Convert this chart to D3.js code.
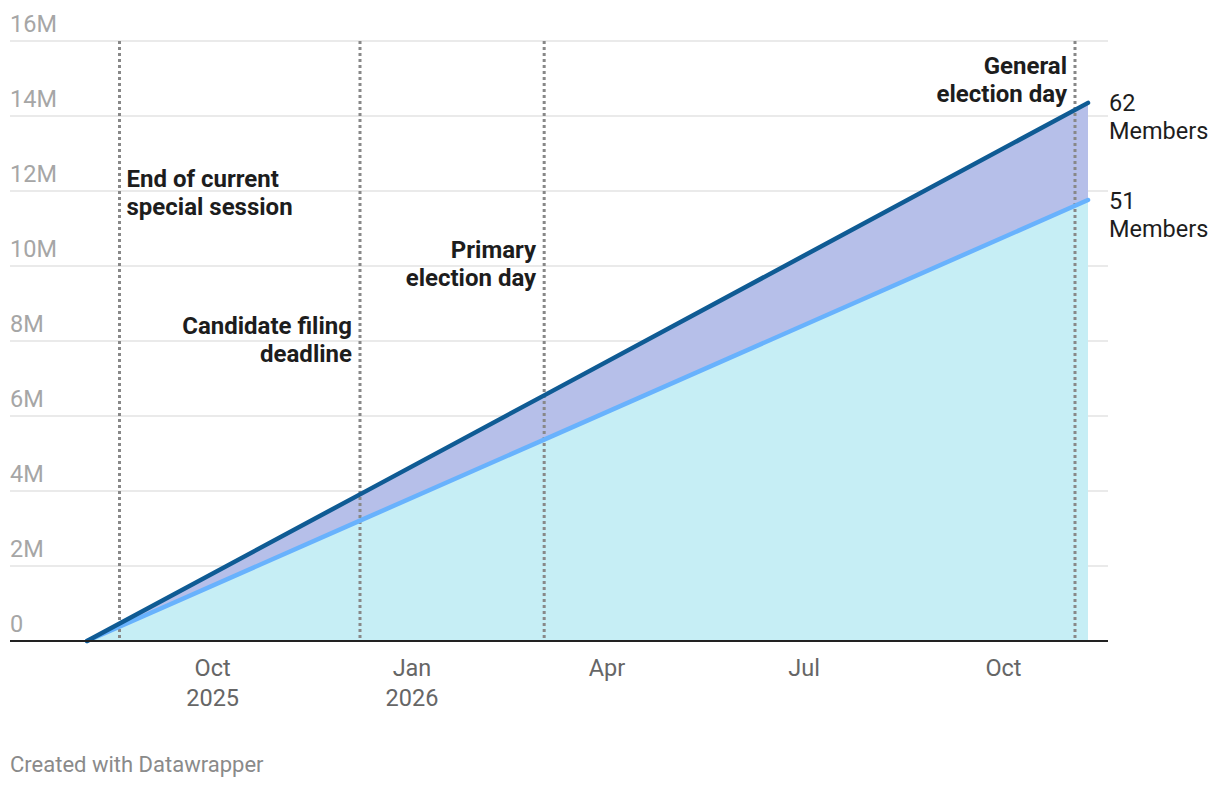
<!DOCTYPE html>
<html>
<head>
<meta charset="utf-8">
<script src="https://cdn.jsdelivr.net/npm/d3@7"></script>
<style>
	body { margin: 0; background: #fff; font-family: Roboto, "Noto Sans", sans-serif; }
	svg text { font-family: Roboto, "Noto Sans", sans-serif; }
</style>
</head>
<body>
<script>
// data
var dates = ["2025-08-04", "2025-12-08", "2026-03-03", "2026-11-09"];
var members62 = [0, 3.91, 6.55, 14.35];   // millions
var members51 = [0, 3.21, 5.37, 11.76];   // millions
var yTicks = [0, 2, 4, 6, 8, 10, 12, 14, 16];
var yTickLabels = ["0", "2M", "4M", "6M", "8M", "10M", "12M", "14M", "16M"];
var xTicks = ["2025-10-01", "2026-01-01", "2026-04-01", "2026-07-01", "2026-10-01"];
var xTickLabels = [["Oct", "2025"], ["Jan", "2026"], ["Apr"], ["Jul"], ["Oct"]];
var eventDates = ["2025-08-19", "2025-12-08", "2026-03-03", "2026-11-03"];
var eventLabels = [
	["End of current", "special session"],
	["Candidate filing", "deadline"],
	["Primary", "election day"],
	["General", "election day"]
];
var seriesLabels = [["62", "Members"], ["51", "Members"]];

var parse = d3.timeParse("%Y-%m-%d");
var W = 1220, H = 788;

var svg = d3.select("body").append("svg")
	.attr("width", W)
	.attr("height", H);

var x = d3.scaleTime()
	.domain([parse(dates[0]), parse(dates[dates.length - 1])])
	.range([87, 1088]);
var y = d3.scaleLinear()
	.domain([0, 16])
	.range([641, 41]);

var rows = dates.map(function(d, i) {
	return { date: parse(d), a: members62[i], b: members51[i] };
});

// gridlines
svg.append("g")
	.selectAll("line")
	.data(yTicks.slice(1))
	.enter().append("line")
		.attr("x1", 10)
		.attr("x2", 1108)
		.attr("y1", function(d) { return y(d); })
		.attr("y2", function(d) { return y(d); })
		.attr("stroke", "#e3e3e3")
		.attr("stroke-width", 1.5);

svg.append("g")
	.selectAll("text")
	.data(yTicks)
	.enter().append("text")
		.attr("x", 10)
		.attr("y", function(d) { return y(d) - 9.5; })
		.attr("fill", "#a6a6a6")
		.attr("font-size", 23.5)
		.text(function(d, i) { return yTickLabels[i]; });

// areas
svg.append("path")
	.datum(rows)
	.attr("fill", "#c6eef5")
	.attr("d", d3.area()
		.x(function(d) { return x(d.date); })
		.y0(y(0))
		.y1(function(d) { return y(d.b); }));

svg.append("path")
	.datum(rows)
	.attr("fill", "#b6bfe9")
	.attr("d", d3.area()
		.x(function(d) { return x(d.date); })
		.y0(function(d) { return y(d.b); })
		.y1(function(d) { return y(d.a); }));

// event lines
svg.append("g")
	.selectAll("line")
	.data(eventDates)
	.enter().append("line")
		.attr("x1", function(d) { return x(parse(d)); })
		.attr("x2", function(d) { return x(parse(d)); })
		.attr("y1", 41)
		.attr("y2", 641)
		.attr("stroke", "#888")
		.attr("stroke-width", 3)
		.attr("stroke-dasharray", "3,3");

// series lines
svg.append("path")
	.datum(rows)
	.attr("fill", "none")
	.attr("stroke", "#68b2fd")
	.attr("stroke-width", 4.5)
	.attr("stroke-linecap", "round")
	.attr("d", d3.line()
		.x(function(d) { return x(d.date); })
		.y(function(d) { return y(d.b); }));

svg.append("path")
	.datum(rows)
	.attr("fill", "none")
	.attr("stroke", "#0f5b94")
	.attr("stroke-width", 4.5)
	.attr("stroke-linecap", "round")
	.attr("d", d3.line()
		.x(function(d) { return x(d.date); })
		.y(function(d) { return y(d.a); }));

// baseline
svg.append("line")
	.attr("x1", 10)
	.attr("x2", 1108)
	.attr("y1", y(0))
	.attr("y2", y(0))
	.attr("stroke", "#222")
	.attr("stroke-width", 2);

// x axis labels
var xt = svg.append("g")
	.selectAll("text")
	.data(xTicks)
	.enter().append("text")
		.attr("x", function(d) { return x(parse(d)); })
		.attr("y", 676)
		.attr("text-anchor", "middle")
		.attr("fill", "#666")
		.attr("font-size", 23.5);
xt.selectAll("tspan")
	.data(function(d, i) { return xTickLabels[i]; })
	.enter().append("tspan")
		.attr("x", function() { return x(parse(d3.select(this.parentNode).datum())); })
		.attr("dy", function(d, i) { return i ? 30 : 0; })
		.text(function(d) { return d; });

// event annotations
var annoY = [187, 334, 258, 74];
var annoRight = [false, true, true, true];
eventDates.forEach(function(d, i) {
	var ex = x(parse(d));
	var t = svg.append("text")
		.attr("y", annoY[i])
		.attr("font-size", 24)
		.attr("font-weight", "bold")
		.attr("fill", "#1d1d1d")
		.attr("text-anchor", annoRight[i] ? "end" : "start");
	eventLabels[i].forEach(function(s, j) {
		t.append("tspan")
			.attr("x", annoRight[i] ? ex - 8 : ex + 7)
			.attr("dy", j ? 28 : 0)
			.text(s);
	});
});

// series labels
var lastRow = rows[rows.length - 1];
[lastRow.a, lastRow.b].forEach(function(v, i) {
	var t = svg.append("text")
		.attr("y", y(v) + 8.5)
		.attr("font-size", 23.5)
		.attr("fill", "#1d1d1d");
	seriesLabels[i].forEach(function(s, j) {
		t.append("tspan")
			.attr("x", 1109)
			.attr("dy", j ? 28 : 0)
			.text(s);
	});
});

svg.append("text")
	.attr("x", 10)
	.attr("y", 772)
	.attr("font-size", 22)
	.attr("fill", "#8a8a8a")
	.text("Created with Datawrapper");
</script>
</body>
</html>
